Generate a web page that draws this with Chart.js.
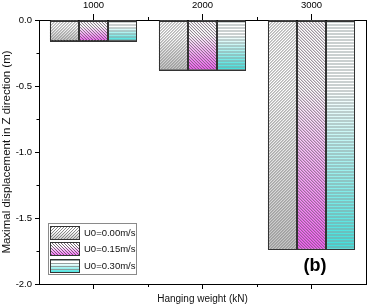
<!DOCTYPE html>
<html>
<head>
<meta charset="utf-8">
<script src="https://cdn.jsdelivr.net/npm/chart.js@4"></script>
<style>
	body { margin: 0; background: #fff; }
	canvas { display: block; }
</style>
</head>
<body>
<canvas id="js-canvas" width="367" height="307"></canvas>
<script>
const canvas = document.getElementById('js-canvas')

// Chart data
const weights = ['1000', '2000', '3000']
const seriesNames = ['U0=0.00m/s', 'U0=0.15m/s', 'U0=0.30m/s']
const dispU000 = [-0.16, -0.38, -1.74]
const dispU015 = [-0.16, -0.38, -1.74]
const dispU030 = [-0.16, -0.38, -1.74]
const yMinorTicks = [-0.25, -0.75, -1.25, -1.75]

const FONT = "'Liberation Sans', Arial, sans-serif"
// Bottom colour of each gradient, and the hatch style on top of it
const baseColors = ['#c4c4c4', '#f45cf4', '#3ce0dc']
const hatchColors = ['#7c7c7c', '#6a5a6a', '#8a9696']
const hatchKinds = ['up', 'down', 'flat']

function gradientFor(ctx, i, top, bottom) {
	const g = ctx.createLinearGradient(0, top, 0, bottom)
	g.addColorStop(0, '#ffffff')
	g.addColorStop(0.3, '#ffffff')
	g.addColorStop(1, baseColors[i])
	return g
}

function drawHatch(ctx, i, l, t, w, h) {
	ctx.save()
	ctx.beginPath()
	ctx.rect(l, t, w, h)
	ctx.clip()
	ctx.strokeStyle = hatchColors[i]
	ctx.lineWidth = 0.9
	ctx.beginPath()
	if (hatchKinds[i] === 'flat') {
		for (let y = t + 1.5; y < t + h; y += 3) {
			ctx.moveTo(l, y)
			ctx.lineTo(l + w, y)
		}
	} else {
		for (let x = l - h; x < l + w + h; x += 3) {
			if (hatchKinds[i] === 'up') {
				ctx.moveTo(x, t + h)
				ctx.lineTo(x + h, t)
			} else {
				ctx.moveTo(x, t)
				ctx.lineTo(x + h, t + h)
			}
		}
	}
	ctx.stroke()
	ctx.restore()
}

// Hatching over every bar the library drew, plus minor ticks, legend and panel tag
const extras = {
	id: 'extras',
	afterDatasetsDraw(chart) {
		const ctx = chart.ctx
		chart.data.datasets.forEach((ds, i) => {
			chart.getDatasetMeta(i).data.forEach(bar => {
				const { x, y, base, width } = bar.getProps(['x', 'y', 'base', 'width'], true)
				const l = x - width / 2, t = Math.min(y, base), h = Math.abs(base - y)
				drawHatch(ctx, i, l, t, width, h)
				ctx.strokeStyle = '#333'
				ctx.lineWidth = 1
				ctx.strokeRect(Math.round(l) + 0.5, Math.round(t) + 0.5, Math.round(width) - 1, Math.round(h) - 1)
			})
		})
	},
	afterDraw(chart) {
		const ctx = chart.ctx
		const { left, top, bottom } = chart.chartArea
		const x = chart.scales.x, y = chart.scales.y
		ctx.save()
		ctx.strokeStyle = '#000'
		ctx.lineWidth = 1
		ctx.beginPath()
		for (let i = 0; i < weights.length - 1; i++) {
			const mx = Math.round((x.getPixelForValue(i) + x.getPixelForValue(i + 1)) / 2) + 0.5
			ctx.moveTo(mx, top); ctx.lineTo(mx, top - 3)
			ctx.moveTo(mx, bottom); ctx.lineTo(mx, bottom + 3)
		}
		yMinorTicks.forEach(v => {
			const py = Math.round(y.getPixelForValue(v)) + 0.5
			ctx.moveTo(left, py); ctx.lineTo(left - 2.5, py)
		})
		ctx.stroke()

		// Legend box
		ctx.strokeStyle = '#8a8a8a'
		ctx.strokeRect(48.5, 223.5, 88, 51)
		const rows = [226, 242, 259]
		ctx.font = '9.5px ' + FONT
		ctx.textBaseline = 'middle'
		ctx.textAlign = 'left'
		rows.forEach((t, i) => {
			ctx.fillStyle = gradientFor(ctx, i, t, t + 14)
			ctx.fillRect(50, t, 30, 14)
			drawHatch(ctx, i, 50, t, 30, 14)
			ctx.strokeStyle = '#333'
			ctx.strokeRect(50.5, t + 0.5, 29, 13)
			ctx.fillStyle = '#111'
			ctx.fillText(seriesNames[i], 84, t + 7.5)
		})

		ctx.font = 'bold 18px ' + FONT
		ctx.textAlign = 'center'
		ctx.fillStyle = '#000'
		ctx.fillText('(b)', 315, 266)
		ctx.restore()
	}
}

const seriesValues = [dispU000, dispU015, dispU030]

const chart = new Chart(canvas, {
	type: 'bar',
	data: {
		labels: weights,
		datasets: seriesValues.map((vals, i) => ({
			label: seriesNames[i],
			data: vals,
			borderColor: '#333',
			borderWidth: 1,
			backgroundColor: c => {
				if (c.type !== 'data' || !c.chart.chartArea) return baseColors[i]
				const ys = c.chart.scales.y
				return gradientFor(c.chart.ctx, i, ys.getPixelForValue(0), ys.getPixelForValue(c.raw))
			},
			categoryPercentage: 0.8,
			barPercentage: 1
		}))
	},
	options: {
		responsive: false,
		animation: false,
		layout: { padding: 0 },
		plugins: {
			legend: { display: false },
			tooltip: { enabled: false }
		},
		scales: {
			x: {
				type: 'category',
				position: 'top',
				offset: true,
				ticks: { color: '#000', font: { size: 9.5, family: FONT }, padding: 3, maxRotation: 0 },
				grid: { offset: false, drawOnChartArea: false, tickLength: 6, color: '#000' },
				border: { color: '#000', width: 1 },
				afterFit: s => { s.height = 20 }
			},
			x2: {
				type: 'category',
				position: 'bottom',
				offset: true,
				labels: weights,
				ticks: { display: false },
				grid: { offset: false, drawOnChartArea: false, tickLength: 5, color: '#000' },
				border: { color: '#000', width: 1 },
				title: { display: true, text: 'Hanging weight (kN)', color: '#111', font: { size: 10, family: FONT }, padding: { top: 2, bottom: 2 } },
				afterFit: s => { s.height = 23 }
			},
			y: {
				position: 'left',
				min: -2,
				max: 0,
				ticks: { stepSize: 0.5, color: '#000', font: { size: 9.5, family: FONT }, padding: 3, callback: v => v.toFixed(1) },
				grid: { drawOnChartArea: false, tickLength: 4, color: '#000' },
				border: { color: '#000', width: 1 },
				title: { display: true, text: 'Maximal displacement in Z direction (m)', color: '#111', font: { size: 11.5, family: FONT }, padding: 0 },
				afterFit: s => { s.width = 39 }
			},
			y2: {
				position: 'right',
				min: -2,
				max: 0,
				ticks: { display: false },
				grid: { drawOnChartArea: false, drawTicks: false, color: '#000' },
				border: { color: '#000', width: 1 },
				afterFit: s => { s.width = 1 }
			}
		}
	},
	plugins: [extras]
})
</script>
</body>
</html>
